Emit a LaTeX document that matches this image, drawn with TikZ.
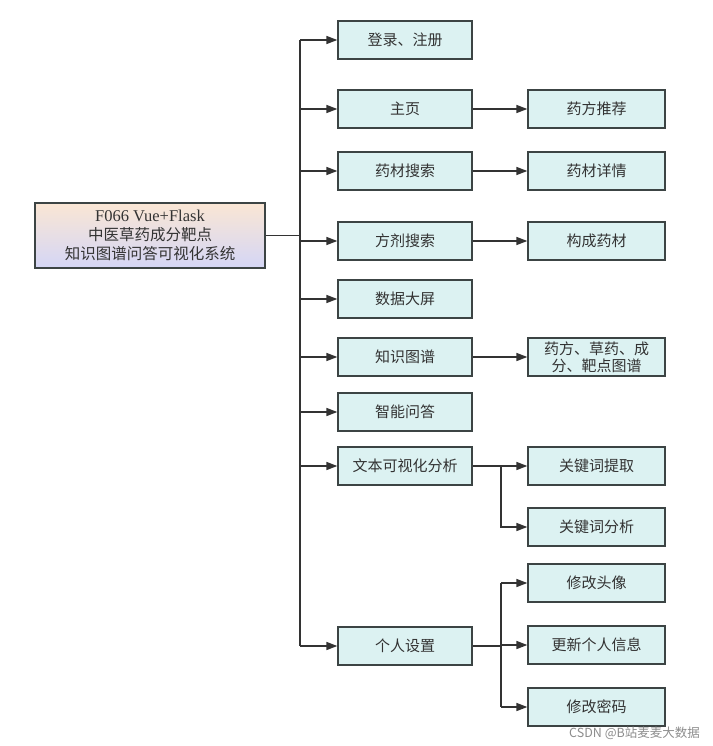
\documentclass[tikz,border=0pt]{standalone}
\usepackage{fontspec}
\setmainfont{Noto Sans CJK SC}
\newfontfamily\latinserif{Liberation Serif}
\usetikzlibrary{arrows.meta}
\definecolor{boxfill}{HTML}{DCF2F2}
\definecolor{boxline}{HTML}{3C4444}
\definecolor{linecol}{HTML}{333333}
\definecolor{textcol}{HTML}{333333}
\definecolor{peach}{HTML}{FAE6D4}
\definecolor{lav}{HTML}{D4D6F6}
\tikzset{
  box/.style={draw=boxline, line width=1.3pt, fill=boxfill, minimum width=134pt, minimum height=38pt,
    inner sep=0pt, align=center, text=textcol, font=\fontsize{15}{17}\selectfont},
  rootbox/.style={draw=boxline, line width=1.3pt, top color=peach, bottom color=lav, minimum width=230pt,
    minimum height=65pt, inner sep=0pt, align=center, text=textcol, font=\fontsize{15.5}{19}\selectfont},
  conn/.style={draw=linecol, line width=1.6pt},
  arr/.style={conn, -{Triangle[length=11pt,width=8pt]}}
}
\begin{document}
\begin{tikzpicture}[x=1pt,y=-1pt]
\useasboundingbox (0,0) rectangle (712,746);
\node[rootbox] (root) at (150,235.5) {{\latinserif\fontsize{16.5}{19}\selectfont F066 Vue+Flask}\\中医草药成分靶点\\知识图谱问答可视化系统};
% column 1
\node[box] (n1) at (405,40) {登录、注册};
\node[box] (n2) at (405,109) {主页};
\node[box] (n3) at (405,171) {药材搜索};
\node[box] (n4) at (405,241) {方剂搜索};
\node[box] (n5) at (405,299) {数据大屏};
\node[box] (n6) at (405,357) {知识图谱};
\node[box] (n7) at (405,412) {智能问答};
\node[box] (n8) at (405,466) {文本可视化分析};
\node[box] (n9) at (405,646) {个人设置};
% column 2
\node[box, minimum width=137pt] (s1) at (596.5,109) {药方推荐};
\node[box, minimum width=137pt] (s2) at (596.5,171) {药材详情};
\node[box, minimum width=137pt] (s3) at (596.5,241) {构成药材};
\node[box, minimum width=137pt, font=\fontsize{15}{17}\selectfont] (s4) at (596.5,357) {药方、草药、成\\分、靶点图谱};
\node[box, minimum width=137pt] (s5) at (596.5,466) {关键词提取};
\node[box, minimum width=137pt] (s6) at (596.5,527) {关键词分析};
\node[box, minimum width=137pt] (s7) at (596.5,583) {修改头像};
\node[box, minimum width=137pt] (s8) at (596.5,645) {更新个人信息};
\node[box, minimum width=137pt] (s9) at (596.5,707) {修改密码};
% junction coordinates
\coordinate (T) at (300,0);
\coordinate (B) at (501,0);
\coordinate (C) at (501,0);
% trunk
\draw[conn] (root.east) -- (T |- root.east);
\draw[conn] (T |- n1.west) -- (T |- n9.west);
\foreach \n in {n1,n2,n3,n4,n5,n6,n7,n8,n9}{
  \draw[arr] (T |- \n.west) -- (\n.west);
}
% simple branches
\draw[arr] (n2.east) -- (s1.west);
\draw[arr] (n3.east) -- (s2.west);
\draw[arr] (n4.east) -- (s3.west);
\draw[arr] (n6.east) -- (s4.west);
% text analysis branch
\draw[conn] (n8.east) -- (B |- n8.east);
\draw[arr] (B |- n8.east) -- (s5.west);
\draw[arr] (B |- n8.east) |- (s6.west);
% personal settings branch
\draw[conn] (n9.east) -- (C |- n9.east);
\draw[conn] (C |- s7.west) -- (C |- s9.west);
\draw[arr] (C |- s7.west) -- (s7.west);
\draw[arr] (C |- s8.west) -- (s8.west);
\draw[arr] (C |- s9.west) -- (s9.west);
% footer
\node[text=black!45, font=\fontsize{12.5}{14}\selectfont, anchor=east, inner sep=0pt] (csdn) at (700,733) {CSDN @B站麦麦大数据};
\end{tikzpicture}
\end{document}
